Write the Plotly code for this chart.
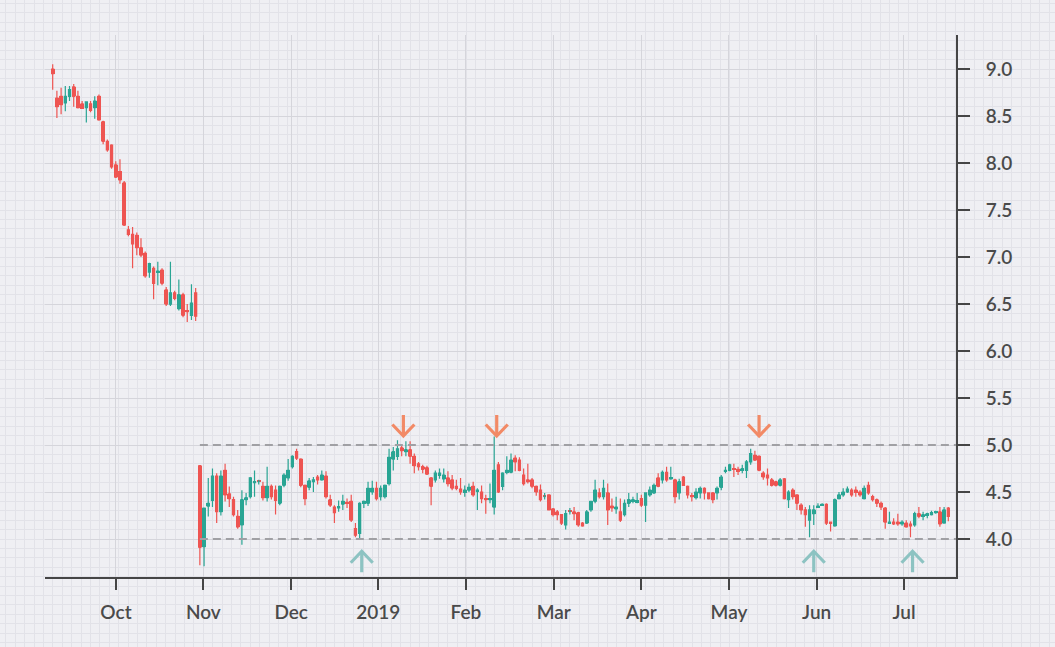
import plotly.graph_objs as go

# ---- data ----
# one candle per trading session; the time axis is the session index
open_ = [
    # Sep - Oct
    9.00, 8.69, 8.71, 8.64, 8.71, 8.81, 8.71, 8.63, 8.59, 8.63,
    8.59, 8.71, 8.44, 8.23, 8.19, 7.98, 7.91, 7.79, 7.29, 7.24,
    7.23, 7.10, 7.04, 6.84, 6.88, 6.84, 6.86, 6.65, 6.50, 6.62,
    6.45, 6.60, 6.43, 6.38, 6.62,
    # after the drop, up to early Feb
    4.78, 3.92, 4.35, 4.41, 4.67, 4.29, 4.73, 4.48, 4.42, 4.24,
    4.15, 4.42, 4.45, 4.60, 4.61, 4.56, 4.44, 4.56, 4.52, 4.38,
    4.57, 4.65, 4.77, 4.93, 4.85, 4.57, 4.55, 4.61, 4.66, 4.63,
    4.67, 4.42, 4.34, 4.33, 4.37, 4.39, 4.40, 4.11, 4.06, 4.38,
    4.38, 4.50, 4.54, 4.45, 4.45, 4.59, 4.85, 4.88, 4.97, 4.93,
    4.95, 4.88, 4.80, 4.77, 4.76, 4.65, 4.63, 4.68, 4.64, 4.65,
    4.63, 4.56, 4.53, 4.50, 4.52, 4.56,
    # Feb - mid May
    4.51, 4.50, 4.43, 4.42, 4.34, 4.79, 4.56, 4.71, 4.71, 4.86,
    4.84, 4.68, 4.63, 4.63, 4.56, 4.52, 4.45, 4.47, 4.32, 4.29,
    4.26, 4.15, 4.29, 4.29, 4.28, 4.17, 4.17, 4.31, 4.40, 4.49,
    4.45, 4.49, 4.35, 4.32, 4.29, 4.26, 4.38, 4.40, 4.39, 4.43,
    4.36, 4.47, 4.49, 4.65, 4.63, 4.71, 4.64, 4.63, 4.49, 4.66,
    4.56, 4.46, 4.44, 4.49, 4.54, 4.49, 4.49, 4.49, 4.55, 4.72,
    4.73, 4.75, 4.74, 4.73, 4.73, 4.82, 4.89,
    # mid May - Jul
    4.88, 4.70, 4.68, 4.63, 4.61, 4.57, 4.64, 4.42, 4.52, 4.47,
    4.36, 4.31, 4.20, 4.27, 4.34, 4.36, 4.37, 4.18, 4.14, 4.43,
    4.47, 4.50, 4.52, 4.52, 4.50, 4.43, 4.57, 4.45, 4.42, 4.38,
    4.33, 4.17, 4.18, 4.18, 4.16, 4.17, 4.16, 4.15, 4.27, 4.24,
    4.25, 4.26, 4.28, 4.29, 4.17, 4.33,
]
high = [
    9.05, 8.77, 8.80, 8.82, 8.82, 8.84, 8.77, 8.66, 8.65, 8.66,
    8.71, 8.73, 8.45, 8.25, 8.20, 8.02, 8.04, 7.81, 7.33, 7.32,
    7.26, 7.20, 7.06, 6.94, 6.90, 6.95, 6.88, 6.68, 6.95, 6.64,
    6.76, 6.62, 6.50, 6.71, 6.67,
    4.78, 4.33, 4.65, 4.75, 4.70, 4.73, 4.80, 4.56, 4.45, 4.31,
    4.52, 4.49, 4.66, 4.73, 4.63, 4.61, 4.77, 4.58, 4.57, 4.57,
    4.70, 4.85, 4.89, 4.96, 4.86, 4.58, 4.65, 4.66, 4.68, 4.73,
    4.72, 4.47, 4.36, 4.41, 4.47, 4.43, 4.47, 4.17, 4.39, 4.41,
    4.61, 4.62, 4.61, 4.57, 4.58, 4.96, 4.98, 5.05, 5.00, 5.04,
    5.04, 4.91, 4.82, 4.79, 4.78, 4.66, 4.73, 4.75, 4.75, 4.72,
    4.68, 4.63, 4.65, 4.57, 4.59, 4.61,
    4.54, 4.57, 4.47, 4.59, 5.09, 4.82, 4.71, 4.88, 4.91, 4.89,
    4.87, 4.75, 4.80, 4.65, 4.57, 4.58, 4.49, 4.47, 4.33, 4.31,
    4.26, 4.31, 4.33, 4.34, 4.29, 4.18, 4.31, 4.40, 4.63, 4.54,
    4.63, 4.59, 4.43, 4.45, 4.43, 4.42, 4.49, 4.45, 4.49, 4.47,
    4.49, 4.56, 4.59, 4.70, 4.73, 4.77, 4.77, 4.64, 4.64, 4.67,
    4.57, 4.49, 4.54, 4.56, 4.55, 4.49, 4.50, 4.56, 4.68, 4.77,
    4.80, 4.80, 4.77, 4.79, 4.84, 4.96, 4.94,
    4.89, 4.72, 4.75, 4.65, 4.62, 4.65, 4.65, 4.52, 4.54, 4.47,
    4.38, 4.34, 4.36, 4.36, 4.38, 4.38, 4.38, 4.18, 4.43, 4.50,
    4.54, 4.56, 4.54, 4.56, 4.52, 4.57, 4.61, 4.47, 4.43, 4.40,
    4.34, 4.29, 4.22, 4.27, 4.20, 4.20, 4.19, 4.29, 4.34, 4.29,
    4.28, 4.30, 4.30, 4.34, 4.34, 4.34,
]
low = [
    8.78, 8.48, 8.52, 8.55, 8.66, 8.60, 8.58, 8.58, 8.43, 8.54,
    8.47, 8.45, 8.20, 8.12, 7.94, 7.84, 7.78, 7.33, 7.22, 6.88,
    7.02, 7.00, 6.78, 6.78, 6.55, 6.70, 6.70, 6.48, 6.48, 6.54,
    6.43, 6.36, 6.31, 6.33, 6.32,
    3.72, 3.71, 4.24, 4.34, 4.17, 4.25, 4.40, 4.34, 4.24, 4.11,
    3.94, 4.36, 4.43, 4.45, 4.58, 4.41, 4.40, 4.42, 4.26, 4.36,
    4.55, 4.62, 4.75, 4.84, 4.55, 4.36, 4.52, 4.50, 4.58, 4.62,
    4.43, 4.34, 4.17, 4.29, 4.31, 4.33, 4.18, 4.02, 3.99, 4.33,
    4.35, 4.47, 4.41, 4.41, 4.43, 4.57, 4.73, 4.84, 4.88, 4.88,
    4.80, 4.70, 4.73, 4.70, 4.68, 4.36, 4.60, 4.64, 4.60, 4.56,
    4.52, 4.52, 4.47, 4.45, 4.50, 4.45,
    4.31, 4.38, 4.27, 4.38, 4.26, 4.49, 4.52, 4.69, 4.70, 4.72,
    4.72, 4.57, 4.59, 4.54, 4.46, 4.40, 4.42, 4.31, 4.24, 4.20,
    4.15, 4.10, 4.26, 4.20, 4.13, 4.13, 4.16, 4.29, 4.38, 4.43,
    4.42, 4.15, 4.29, 4.27, 4.18, 4.24, 4.34, 4.38, 4.38, 4.34,
    4.18, 4.45, 4.48, 4.55, 4.59, 4.61, 4.63, 4.38, 4.42, 4.57,
    4.43, 4.40, 4.42, 4.43, 4.42, 4.42, 4.38, 4.42, 4.52, 4.70,
    4.72, 4.66, 4.68, 4.70, 4.65, 4.79, 4.83,
    4.72, 4.63, 4.57, 4.56, 4.56, 4.56, 4.42, 4.33, 4.42, 4.31,
    4.26, 4.13, 4.02, 4.15, 4.33, 4.35, 4.15, 4.08, 4.13, 4.42,
    4.45, 4.49, 4.45, 4.45, 4.45, 4.42, 4.47, 4.40, 4.34, 4.31,
    4.11, 4.16, 4.15, 4.14, 4.14, 4.12, 4.02, 4.13, 4.22, 4.20,
    4.22, 4.25, 4.27, 4.13, 4.17, 4.19,
]
close = [
    8.95, 8.60, 8.62, 8.71, 8.78, 8.71, 8.59, 8.58, 8.65, 8.56,
    8.66, 8.46, 8.23, 8.14, 7.96, 7.85, 7.82, 7.34, 7.24, 7.14,
    7.10, 7.02, 6.80, 6.93, 6.72, 6.85, 6.72, 6.50, 6.62, 6.56,
    6.60, 6.38, 6.42, 6.51, 6.37,
    3.91, 4.33, 4.38, 4.67, 4.29, 4.67, 4.47, 4.43, 4.26, 4.13,
    4.42, 4.44, 4.65, 4.61, 4.61, 4.44, 4.56, 4.45, 4.41, 4.56,
    4.68, 4.73, 4.88, 4.86, 4.57, 4.43, 4.62, 4.63, 4.63, 4.68,
    4.45, 4.36, 4.28, 4.34, 4.40, 4.38, 4.20, 4.04, 4.38, 4.40,
    4.54, 4.54, 4.43, 4.54, 4.57, 4.87, 4.93, 4.96, 4.94, 4.95,
    4.88, 4.78, 4.77, 4.74, 4.69, 4.56, 4.70, 4.70, 4.68, 4.59,
    4.54, 4.54, 4.50, 4.52, 4.55, 4.47,
    4.52, 4.43, 4.42, 4.43, 4.73, 4.50, 4.70, 4.73, 4.84, 4.82,
    4.73, 4.59, 4.61, 4.56, 4.50, 4.42, 4.45, 4.31, 4.26, 4.26,
    4.17, 4.27, 4.29, 4.27, 4.15, 4.14, 4.29, 4.40, 4.52, 4.45,
    4.54, 4.31, 4.33, 4.34, 4.20, 4.38, 4.42, 4.42, 4.41, 4.36,
    4.49, 4.52, 4.57, 4.56, 4.71, 4.63, 4.65, 4.45, 4.61, 4.57,
    4.47, 4.45, 4.50, 4.54, 4.49, 4.43, 4.42, 4.54, 4.66, 4.73,
    4.79, 4.74, 4.72, 4.75, 4.82, 4.91, 4.84,
    4.73, 4.66, 4.65, 4.57, 4.57, 4.63, 4.43, 4.50, 4.45, 4.38,
    4.31, 4.26, 4.31, 4.31, 4.35, 4.37, 4.17, 4.17, 4.42, 4.47,
    4.50, 4.53, 4.47, 4.50, 4.47, 4.54, 4.49, 4.42, 4.38, 4.34,
    4.18, 4.18, 4.16, 4.16, 4.18, 4.13, 4.14, 4.27, 4.24, 4.26,
    4.27, 4.28, 4.29, 4.16, 4.31, 4.24,
]

range_start = 35                    # first session of the trading range after the drop
resistance = 5.0
support = 4.0
peak_pos = [83.4, 105.6, 168.0]     # session positions of the marked tops
trough_pos = [73.5, 181.0, 204.5]   # session positions of the marked bottoms

tick_pos = [15.05, 35.82, 56.72, 77.44, 98.29, 119.15, 139.99, 160.84, 181.70, 202.46]
tick_labels = ["Oct", "Nov", "Dec", "2019", "Feb", "Mar", "Apr", "May", "Jun", "Jul"]
price_ticks = [4.0, 4.5, 5.0, 5.5, 6.0, 6.5, 7.0, 7.5, 8.0, 8.5, 9.0]

# ---- look ----
W, H = 1055, 647
PL, PR, PT, PB = 45, 956, 35, 577          # plot box, px
X_RANGE = [-1.83, 214.83]
Y_RANGE = [3.596, 9.362]
BG = "#efeff3"
FINE = "#e2e2e8"
GRID = "#d5d5db"
AXIS = "#454545"
TEXT = "#4a4a4a"
UP = "#2aa594"
DOWN = "#ee5552"
PEAK = "#f28a66"
TROUGH = "#8dc3c2"
FONT = dict(family="Lato", size=19, color=TEXT, weight=600)

assert len(open_) == len(high) == len(low) == len(close)
session = list(range(len(close)))

fig = go.Figure()

# graph-paper background over the whole page
fig.add_trace(go.Scatter(x=[], y=[], xaxis="x", yaxis="y", hoverinfo="skip", showlegend=False))

# wicks
fig.add_trace(go.Candlestick(
    x=session, open=open_, high=high, low=low, close=close,
    xaxis="x2", yaxis="y2", whiskerwidth=0, showlegend=False,
    increasing=dict(line=dict(color=UP, width=1.2), fillcolor=UP),
    decreasing=dict(line=dict(color=DOWN, width=1.2), fillcolor=DOWN),
))

# bodies, a little wider than plotly's default candle box
body_base = [min(o, c) for o, c in zip(open_, close)]
body_size = [max(abs(c - o), 0.014) for o, c in zip(open_, close)]
body_color = [UP if c > o else DOWN for o, c in zip(open_, close)]
fig.add_trace(go.Bar(
    x=session, y=body_size, base=body_base, xaxis="x2", yaxis="y2",
    width=0.86, marker=dict(color=body_color, line=dict(width=0)),
    hoverinfo="skip", showlegend=False,
))

# arrows: chevron + stem, sized in px then converted to data units
px_x = (PR - PL) / (X_RANGE[1] - X_RANGE[0])
px_y = (PB - PT) / (Y_RANGE[1] - Y_RANGE[0])
half_w = 11 / px_x
wing = 11.5 / px_y
stem = 21 / px_y


def arrow_trace(positions, tip, sign, color):
    xs, ys = [], []
    for p in positions:
        xs += [p - half_w, p, p + half_w, None, p, p, None]
        ys += [tip + sign * wing, tip, tip + sign * wing, None, tip, tip + sign * stem, None]
    return go.Scatter(x=xs, y=ys, mode="lines", xaxis="x2", yaxis="y2",
                      line=dict(color=color, width=3.2), hoverinfo="skip", showlegend=False)


fig.add_trace(arrow_trace(peak_pos, resistance + 0.096, 1, PEAK))
fig.add_trace(arrow_trace(trough_pos, support - 0.13, -1, TROUGH))

for level in (resistance, support):
    fig.add_shape(type="line", xref="x2", yref="y2", x0=range_start, x1=X_RANGE[1],
                  y0=level, y1=level, line=dict(color="#a0a0a4", width=2, dash="8px,5px"))

fig.update_layout(
    width=W, height=H, margin=dict(l=0, r=0, t=0, b=0),
    paper_bgcolor=BG, plot_bgcolor="rgba(0,0,0,0)", showlegend=False, bargap=0,
    xaxis=dict(domain=[0, 1], range=[0, W], tick0=5.9, dtick=9.4, showgrid=True,
               gridcolor=FINE, gridwidth=1, zeroline=False, showticklabels=False,
               ticks="", fixedrange=True),
    yaxis=dict(domain=[0, 1], range=[0, H], tick0=4.6, dtick=9.4, showgrid=True,
               gridcolor=FINE, gridwidth=1, zeroline=False, showticklabels=False,
               ticks="", fixedrange=True),
    xaxis2=dict(domain=[PL / W, PR / W], anchor="y2", range=X_RANGE,
                tickvals=tick_pos, ticktext=tick_labels, showgrid=True, gridcolor=GRID,
                gridwidth=1, showline=True, linecolor=AXIS, linewidth=2, ticks="outside",
                ticklen=11, tickwidth=2, tickcolor=AXIS, tickfont=FONT, zeroline=False,
                rangeslider=dict(visible=False), ticklabelstandoff=6),
    yaxis2=dict(domain=[1 - PB / H, 1 - PT / H], anchor="x2", side="right", range=Y_RANGE,
                tickvals=price_ticks, tickformat=".1f", showgrid=True, gridcolor=GRID,
                gridwidth=1, showline=True, linecolor=AXIS, linewidth=2, ticks="outside",
                ticklen=12, tickwidth=2, tickcolor=AXIS, tickfont=FONT, zeroline=False,
                ticklabelstandoff=12),
)

# page margin off so the figure sits flush with the window
fig.write_html("out.html", config={"displayModeBar": False},
               post_script="document.body.style.margin='0';"
                           "document.body.style.background='%s';" % BG)
